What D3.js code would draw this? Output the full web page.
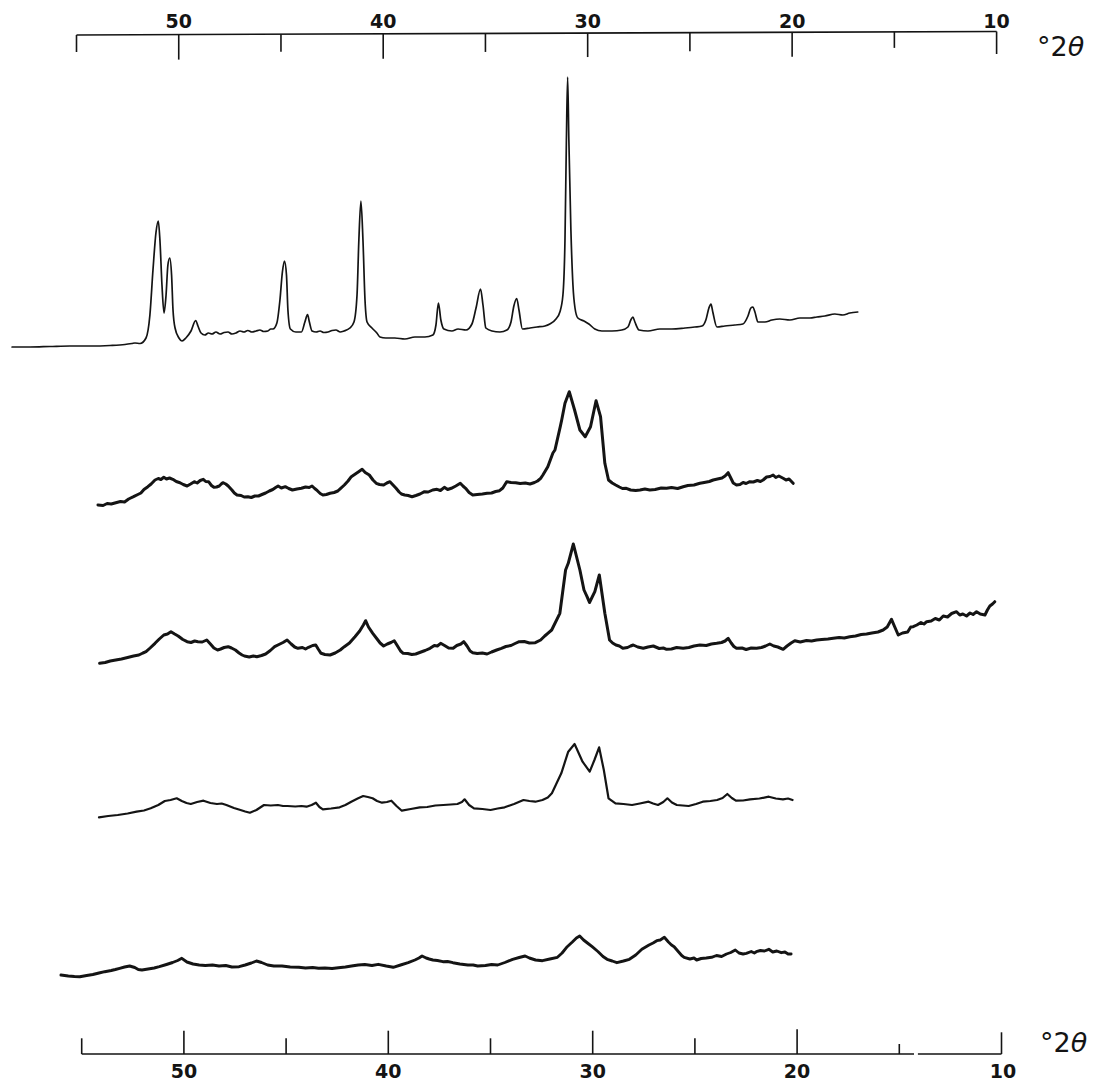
<!DOCTYPE html>
<html><head><meta charset="utf-8">
<script src="https://cdn.jsdelivr.net/npm/d3@7"></script>
<style>body{margin:0;background:#fff} svg{display:block}</style>
</head><body><svg id="c" width="1100" height="1090"></svg>
<script>
// ---- data: [2theta (deg), intensity (arb. units)] ----
const trace1 = [[58.15,3],[57.27,3],[56.30,3.5],[55.32,4],[54.34,4],[53.36,4.5],[52.63,5.5],[52.29,6.5],[52.14,7],[51.89,6.5],[51.60,12],[51.41,35],[51.26,80],[51.11,118],[51.00,129],[50.92,110],[50.82,65],[50.72,37],[50.62,55],[50.53,85],[50.44,92],[50.35,75],[50.28,40],[50.18,22],[49.99,12],[49.84,9],[49.65,12],[49.40,19],[49.17,29.5],[49.06,24],[48.91,17],[48.72,15],[48.55,17],[48.37,16],[48.18,18],[47.98,16],[47.78,17.5],[47.59,18],[47.40,16],[47.20,17],[47.00,19],[46.81,18],[46.62,19.5],[46.42,18],[46.22,19],[46.03,20],[45.84,18.5],[45.64,19],[45.50,21],[45.39,21],[45.20,27],[45.05,50],[44.93,78],[44.83,89],[44.73,75],[44.66,40],[44.54,21],[44.27,18],[44.00,18],[43.83,28],[43.70,35.5],[43.61,28],[43.48,19],[43.28,18],[43.09,19],[42.90,17.5],[42.70,18],[42.50,19.5],[42.31,20],[42.10,18],[41.92,19],[41.63,22],[41.43,28],[41.28,55],[41.19,110],[41.09,149],[40.99,110],[40.89,50],[40.79,28],[40.55,22],[40.31,17],[40.16,13],[39.87,12],[39.43,12],[38.94,11],[38.45,13],[37.96,13],[37.57,15],[37.42,25],[37.30,47],[37.18,30],[37.03,21],[36.64,19],[36.34,21],[35.95,20],[35.66,26],[35.46,42],[35.24,61],[35.12,45],[34.98,22],[34.68,19],[34.29,18],[33.95,20],[33.75,28],[33.61,44],[33.47,51.5],[33.36,40],[33.19,21],[32.82,22],[32.48,23],[32.09,24],[31.85,26],[31.55,31],[31.36,38],[31.21,55],[31.11,110],[31.04,210],[30.98,273],[30.92,210],[30.82,120],[30.72,65],[30.62,42],[30.48,32],[30.18,29],[29.94,26],[29.65,21],[29.30,19],[28.81,19],[28.33,20],[28.03,23],[27.89,30],[27.79,33],[27.69,28],[27.49,20],[27.05,19],[26.47,21],[25.88,21],[25.24,22],[24.76,23],[24.41,24],[24.22,30],[24.07,42],[23.97,46],[23.88,38],[23.68,23],[23.29,24],[22.80,25],[22.41,26],[22.16,34],[22.02,42],[21.92,43],[21.82,38],[21.67,28],[21.33,28],[20.99,30],[20.60,31],[20.11,30],[19.62,32],[19.13,32],[18.79,33],[18.40,34],[17.91,36],[17.52,35],[17.18,37],[16.79,38]];

const trace2 = [[53.95,5],[53.70,4.5],[53.50,6.5],[53.30,6],[53.08,7.3],[52.85,8.5],[52.65,8],[52.45,11],[52.21,13.3],[52.00,15.5],[51.85,17],[51.70,20.5],[51.51,23.3],[51.35,26],[51.16,30],[51.00,31.5],[50.87,30.5],[50.73,32.7],[50.60,31],[50.45,32],[50.29,30.7],[50.12,28.5],[49.94,27.3],[49.78,25.5],[49.59,24],[49.42,26],[49.24,28.3],[49.10,27],[48.95,29.5],[48.80,30.7],[48.68,28.5],[48.54,28.3],[48.40,24.5],[48.28,22.7],[48.15,23],[48.02,24],[47.92,26],[47.84,27.3],[47.70,26],[47.58,24],[47.40,20],[47.28,17],[47.15,15],[46.95,14.5],[46.80,13],[46.62,13.3],[46.45,12.5],[46.28,14],[46.10,14],[45.93,15.5],[45.75,17],[45.57,19],[45.40,20.5],[45.26,22.5],[45.14,24],[44.98,22],[44.79,23.3],[44.62,21.5],[44.44,20],[44.22,21],[44.00,21.7],[43.80,23],[43.62,22.5],[43.48,24],[43.35,21.5],[43.22,19.3],[43.08,16.5],[42.95,15],[42.78,15.5],[42.60,16.7],[42.40,17.5],[42.22,19],[42.08,21.7],[41.90,25],[41.72,29],[41.56,33.3],[41.40,35.5],[41.22,38],[41.03,40.7],[40.88,37.5],[40.68,35],[40.50,30],[40.34,26.7],[40.18,25.5],[39.98,25],[39.82,27],[39.67,28.3],[39.52,25],[39.37,21.7],[39.22,18],[39.11,16],[38.95,15],[38.78,14.5],[38.59,13.3],[38.40,14.5],[38.20,16],[37.98,18.3],[37.80,18],[37.58,20],[37.37,20.7],[37.20,19.5],[37.01,22.7],[36.85,20.5],[36.67,21.7],[36.45,24],[36.23,26.7],[36.10,24],[35.97,21.7],[35.80,17.5],[35.62,15],[35.40,15.5],[35.15,16],[34.92,16.7],[34.70,17],[34.50,18.5],[34.31,19.3],[34.15,22],[33.96,28.3],[33.75,27.5],[33.52,27.3],[33.30,26.5],[33.05,27],[32.82,26],[32.60,27.5],[32.45,29],[32.30,31.7],[32.19,35],[31.95,43.3],[31.70,57],[31.60,60],[31.34,83.3],[31.27,90],[31.11,106.7],[30.90,118.3],[30.64,100],[30.38,80],[30.12,73.3],[29.86,83.3],[29.59,109.3],[29.37,93.3],[29.16,46.7],[28.98,30],[28.80,27],[28.63,25],[28.45,23],[28.30,21.5],[28.11,21.7],[27.90,20],[27.65,19.5],[27.44,20],[27.20,21],[26.96,20],[26.70,20.5],[26.40,22],[26.14,21.7],[25.90,22.5],[25.60,21.5],[25.33,23.3],[25.10,24.5],[24.80,25],[24.51,26.7],[24.30,27.5],[24.05,28.5],[23.86,30],[23.65,31],[23.43,32],[23.28,34],[23.13,37.3],[23.00,32],[22.88,27],[22.72,25],[22.55,25.5],[22.40,27.5],[22.25,26.5],[22.07,28.3],[21.90,28],[21.70,29.5],[21.55,28.5],[21.42,30],[21.25,33],[21.08,33.5],[20.93,35],[20.80,32.5],[20.65,34],[20.44,31.7],[20.30,30],[20.15,31],[19.95,26.7]];

const trace3 = [[53.87,1.7],[53.60,2.5],[53.35,4],[53.08,5],[52.80,6],[52.50,7.5],[52.21,9],[51.95,10],[51.75,12],[51.60,13.3],[51.40,17],[51.16,21.7],[50.95,26],[50.73,30],[50.55,31],[50.38,33.3],[50.20,31],[50.03,29],[49.80,25.5],[49.59,23.3],[49.40,22.5],[49.22,24],[49.06,23.3],[48.85,23],[48.63,25],[48.45,21],[48.28,17],[48.10,15],[47.95,16],[47.78,17.5],[47.58,18.3],[47.42,17],[47.23,15],[47.05,12],[46.90,10],[46.79,9],[46.55,8],[46.35,9],[46.18,8.3],[45.95,9.5],[45.75,11],[45.52,14.5],[45.31,18.3],[45.10,20.5],[44.90,22.5],[44.70,25],[44.50,21],[44.33,18],[44.17,16.7],[43.95,17.5],[43.80,16],[43.65,17.7],[43.45,19.5],[43.30,20],[43.18,16],[43.04,11.7],[42.85,10.5],[42.60,10],[42.35,12],[42.10,15],[41.90,18.3],[41.65,22],[41.38,28.3],[41.15,34],[40.97,40],[40.86,44.3],[40.72,38],[40.51,31.7],[40.30,26],[40.15,22],[39.98,19],[39.80,21],[39.62,22.5],[39.46,24.3],[39.30,19],[39.15,14],[39.02,11.7],[38.80,11.5],[38.60,10.5],[38.41,11],[38.15,13],[37.95,14.5],[37.71,16.7],[37.50,19.5],[37.35,19],[37.19,21.7],[37.00,19.5],[36.80,17],[36.58,16.7],[36.40,19.5],[36.20,21],[36.06,23.3],[35.90,19],[35.75,14],[35.62,12.3],[35.40,11.5],[35.15,12],[34.92,11],[34.70,13],[34.45,15],[34.22,16.7],[34.00,18.5],[33.75,19.5],[33.55,21.5],[33.35,23.3],[33.10,23.5],[32.85,22],[32.56,22.3],[32.30,25],[32.10,29],[31.95,31.7],[31.76,35],[31.36,51.7],[31.08,95],[30.95,101.7],[30.70,121],[30.38,95],[30.18,75],[30.03,68.3],[29.91,62.5],[29.65,73.3],[29.43,90],[29.16,51.7],[28.93,25],[28.78,22],[28.62,20],[28.45,19],[28.28,16.7],[28.05,17.5],[27.90,19],[27.77,20],[27.55,18],[27.28,16.7],[27.05,18],[26.79,19],[26.50,16.5],[26.30,17],[26.14,15.7],[25.90,16],[25.65,17.5],[25.33,16.7],[25.05,17.5],[24.80,19],[24.51,20],[24.20,19.5],[23.95,21],[23.69,21.7],[23.45,22.5],[23.28,24],[23.13,26.7],[22.98,22],[22.85,18.5],[22.72,16.7],[22.45,17],[22.25,15.5],[22.00,17],[21.74,16.7],[21.50,17.5],[21.30,19],[21.09,21],[20.90,19],[20.70,18],[20.44,15.7],[20.25,19],[20.05,22],[19.87,24.3],[19.60,23],[19.30,24.5],[19.05,24],[18.80,25],[18.55,25.5],[18.25,26],[17.99,26.7],[17.70,27.5],[17.45,27],[17.18,28.3],[16.90,29],[16.62,30.5],[16.36,31],[16.10,32],[15.80,33],[15.55,35],[15.35,38],[15.14,45.7],[14.98,38],[14.81,30],[14.60,32],[14.35,33],[14.20,38],[14.08,38.3],[13.90,40],[13.70,42.5],[13.55,41],[13.42,43.3],[13.20,44],[13.00,46.5],[12.80,45],[12.61,49],[12.40,48],[12.20,51.5],[11.96,53.3],[11.80,50],[11.65,51],[11.47,49],[11.30,52],[11.15,50.5],[10.98,53.3],[10.80,51],[10.57,50],[10.45,55],[10.33,59],[10.20,61],[10.09,63.3]];

const trace4 = [[53.90,2.7],[53.45,4],[52.98,5],[52.50,6.5],[52.06,8.3],[51.70,9.5],[51.37,11.7],[51.00,15],[50.68,19],[50.40,20],[50.10,21.7],[49.85,19],[49.62,17],[49.41,16],[49.10,18],[48.79,19.3],[48.45,17],[48.13,16],[47.90,16.5],[47.67,15],[47.30,12],[46.98,10],[46.75,8.5],[46.52,7.3],[46.20,10],[45.83,15],[45.50,14.5],[45.15,15],[44.90,14],[44.68,14],[44.30,13.5],[44.00,14],[43.75,13.3],[43.50,15],[43.29,17.3],[43.12,13],[42.95,10.7],[42.55,11.5],[42.13,12.7],[41.85,15],[41.56,18.3],[41.25,21.5],[40.98,24],[40.75,23],[40.52,21.7],[40.30,19],[40.06,17.3],[39.82,18],[39.60,19.3],[39.35,14],[39.09,9.3],[38.65,11],[38.21,12.7],[37.85,13],[37.45,14.5],[37.06,15],[36.70,15.5],[36.37,16],[36.15,18],[36.02,20.7],[35.80,15],[35.56,11.7],[35.15,11],[34.75,10],[34.40,11.5],[34.06,12.7],[33.60,16],[33.14,20],[32.85,19],[32.56,18.3],[32.21,20],[31.95,22.5],[31.75,26.7],[31.29,46.7],[30.95,68.3],[30.64,76],[30.25,58.3],[29.90,48.3],[29.67,60],[29.44,72.7],[29.21,50],[28.98,21.7],[28.64,16.7],[28.25,16],[27.83,15],[27.45,16.5],[27.02,18.3],[26.80,16.5],[26.56,15],[26.30,18],[26.10,21.7],[25.88,17.5],[25.64,15],[25.35,14.5],[25.06,14],[24.70,16],[24.37,18.3],[24.00,19],[23.67,20],[23.40,22],[23.17,26],[22.95,22],[22.75,19.3],[22.40,19.5],[22.06,20.7],[21.60,21.5],[21.14,23.3],[20.80,21.5],[20.45,20.7],[20.20,21.5],[19.98,20]];

const trace5 = [[55.76,5],[55.40,4],[55.10,3.5],[54.84,3.3],[54.50,4.5],[54.20,5.5],[53.90,7],[53.62,8.3],[53.30,9.5],[53.10,10.5],[52.89,11.7],[52.65,13],[52.40,14],[52.15,12.5],[51.98,10.5],[51.80,10],[51.50,11],[51.20,12],[50.95,13.3],[50.60,15.5],[50.30,17.5],[50.05,19.5],[49.85,21.7],[49.60,18],[49.30,16],[49.00,15],[48.70,14.5],[48.35,15],[48.03,14],[47.70,14.5],[47.40,13],[47.05,13.3],[46.75,15],[46.45,17],[46.20,19],[45.95,17.5],[45.65,15],[45.35,14],[44.95,14],[44.55,13],[44.13,12.7],[43.80,12],[43.45,12.5],[43.16,11.7],[42.85,12],[42.50,11.5],[42.19,12.3],[41.85,13],[41.55,14],[41.22,15],[40.90,15.5],[40.55,14.5],[40.24,15.7],[39.85,14],[39.51,12.7],[39.15,15],[38.78,17.3],[38.45,20],[38.25,22],[38.10,24],[37.90,22],[37.75,21],[37.57,20],[37.35,19.5],[37.08,18.3],[36.85,18.5],[36.59,17.3],[36.25,16],[35.86,15],[35.60,15],[35.38,14],[35.00,14.5],[34.70,15.5],[34.40,15],[34.05,17.5],[33.67,20.7],[33.35,22.5],[33.06,24],[32.85,22],[32.55,20],[32.21,19.3],[31.85,21],[31.48,22.7],[31.25,27],[31.00,33.3],[30.75,38],[30.55,42],[30.39,44],[30.20,40],[29.98,36.5],[29.78,33.3],[29.50,28.5],[29.25,23.5],[29.05,20.7],[28.80,19],[28.57,17.3],[28.25,19],[27.96,20.7],[27.65,25],[27.35,30.7],[27.00,35],[26.80,37],[26.62,39.3],[26.45,40],[26.25,42.7],[26.05,38],[25.90,35],[25.77,33.3],[25.55,28],[25.40,24.5],[25.28,22.7],[25.00,21],[24.80,22],[24.67,20],[24.45,21.5],[24.20,22],[23.94,22.7],[23.70,24.5],[23.45,23.5],[23.21,26],[23.00,27.5],[22.78,30],[22.60,27],[22.40,26],[22.24,26.7],[22.00,28.5],[21.85,27],[21.75,28.3],[21.55,29.5],[21.35,29],[21.14,30.7],[20.95,28],[20.75,29],[20.53,27.3],[20.35,28],[20.20,26],[20.05,26]];

const series = [trace1, trace2, trace3, trace4, trace5];
const tickValues = [55,50,45,40,35,30,25,20,15,10];
const labelValues = [50,40,30,20,10];
const labelTexts = ["50","40","30","20","10"];
const unitLabel = ["°2", "θ"];

// ---- layout (positions / sizes / styles) ----
const layout = {
  baselines: [350, 510, 665, 820, 980],
  widths: [1.7, 3.0, 3.0, 2.2, 2.9],
  smooth: [true, false, false, false, false],
  topTick: {55:17,50:25,45:17.5,40:25,35:18.5,30:24,25:18.5,20:24.5,15:16,10:22.5},
  botTick: {55:15.7,50:23.3,45:15.7,40:23.3,35:15.7,30:23.3,25:15.7,20:24.7,15:10,10:21.7}
};

const svg = d3.select('#c');
const ink = '#141414';
const xTop = d3.scaleLinear().domain([55,10]).range([76.5,996.6]);
const xBot = d3.scaleLinear().domain([55,10]).range([81.7,1001.5]);
const topLineY = d3.scaleLinear().domain([55,10]).range([35,31.5]);
const botLineY = 1054;
const yI = d3.scaleLinear().domain([0,300]).range([0,-300]);

// top axis
svg.append('path')
  .attr('d', `M${xTop(55)},${topLineY(55)}L${xTop(10)},${topLineY(10)}`)
  .attr('stroke', ink).attr('stroke-width', 1.6).attr('fill','none');
svg.append('g').selectAll('line').data(tickValues).join('line')
  .attr('x1', d=>xTop(d)).attr('x2', d=>xTop(d))
  .attr('y1', d=>topLineY(d)).attr('y2', d=>topLineY(d)+layout.topTick[d])
  .attr('stroke', ink).attr('stroke-width', 1.6);
svg.append('g').selectAll('text').data(labelValues).join('text')
  .attr('x', d=>xTop(d)).attr('y', 27.5)
  .attr('text-anchor','middle')
  .attr('font-family','DejaVu Sans, sans-serif').attr('font-weight','bold')
  .attr('font-size', 19).attr('fill', ink)
  .text((d,i)=>labelTexts[i]);

// bottom axis (line with a small gap as in the original)
svg.append('path')
  .attr('d', `M${xBot(55)},${botLineY}L${xBot(14.28)},${botLineY}M${xBot(14.09)},${botLineY}L${xBot(10)},${botLineY}`)
  .attr('stroke', ink).attr('stroke-width', 1.6).attr('fill','none');
svg.append('g').selectAll('line').data(tickValues).join('line')
  .attr('x1', d=>xBot(d)).attr('x2', d=>xBot(d))
  .attr('y1', botLineY).attr('y2', d=>botLineY-layout.botTick[d])
  .attr('stroke', ink).attr('stroke-width', 1.6);
svg.append('g').selectAll('text').data(labelValues).join('text')
  .attr('x', d=>xBot(d) + (d===10?1.5:0)).attr('y', 1077.5)
  .attr('text-anchor','middle')
  .attr('font-family','DejaVu Sans, sans-serif').attr('font-weight','bold')
  .attr('font-size', 19).attr('fill', ink)
  .text((d,i)=>labelTexts[i]);

// unit labels
[[1037,55.5],[1040,1052]].forEach(([x,y])=>{
  const t = svg.append('text').attr('x', x).attr('y', y)
    .attr('font-family','DejaVu Sans, sans-serif').attr('font-size', 27).attr('fill', ink);
  t.append('tspan').text(unitLabel[0]);
  t.append('tspan').attr('font-style','italic').text(unitLabel[1]);
});

// traces
series.forEach((s,i)=>{
  const line = d3.line().x(d=>xTop(d[0])).y(d=>yI(d[1]))
    .curve(layout.smooth[i] ? d3.curveMonotoneX : d3.curveLinear);
  svg.append('g').attr('transform', `translate(0,${layout.baselines[i]})`)
    .append('path').attr('d', line(s))
    .attr('fill','none').attr('stroke', ink)
    .attr('stroke-width', layout.widths[i])
    .attr('stroke-linejoin','round').attr('stroke-linecap','round');
});
</script></body></html>
